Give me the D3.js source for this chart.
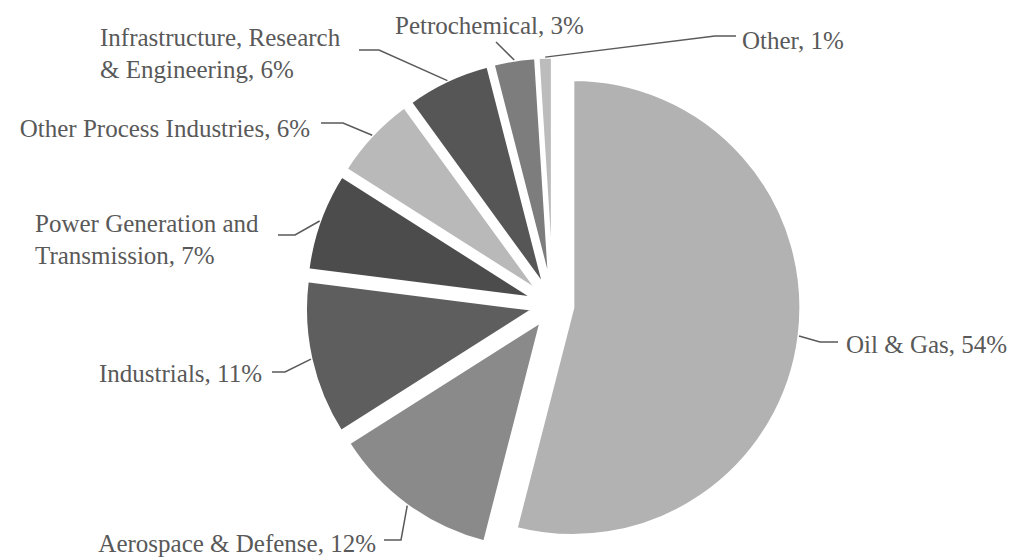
<!DOCTYPE html>
<html>
<head>
<meta charset="utf-8">
<script src="https://cdn.jsdelivr.net/npm/d3@7"></script>
<style>
  body { margin: 0; background: #fff; }
</style>
</head>
<body>
<div id="chart"></div>
<script>
// data, clockwise from 12 o'clock
const categories = ['Oil & Gas', 'Aerospace & Defense', 'Industrials',
  'Power Generation and Transmission', 'Other Process Industries',
  'Infrastructure, Research & Engineering', 'Petrochemical', 'Other'];
const shares = [54, 12, 11, 7, 6, 6, 3, 1];
const labelLines = [
  ['Oil & Gas, 54%'],
  ['Aerospace & Defense, 12%'],
  ['Industrials, 11%'],
  ['Power Generation and', 'Transmission, 7%'],
  ['Other Process Industries, 6%'],
  ['Infrastructure, Research', '& Engineering, 6%'],
  ['Petrochemical, 3%'],
  ['Other, 1%']
];
const fills = ['#b2b2b2', '#8a8a8a', '#5e5e5e', '#4c4c4c', '#b9b9b9', '#565656', '#7d7d7d', '#bcbcbc'];

// label layout: text anchor point, and leader elbow/end
const labelLayout = [
  { x: 846, y: 353, anchor: 'start', elbow: [820, 342], end: [838, 342] },
  { x: 376, y: 552, anchor: 'end',   elbow: [401, 540], end: [384, 540] },
  { x: 262, y: 382, anchor: 'end',   elbow: [285, 372], end: [272, 372] },
  { x: 35,  y: 232, anchor: 'start', elbow: [295, 235], end: [278, 235] },
  { x: 310, y: 137, anchor: 'end',   elbow: [343, 123], end: [321, 123] },
  { x: 100, y: 46,  anchor: 'start', elbow: [379, 50],  end: [359, 50] },
  { x: 395, y: 34,  anchor: 'start', elbow: null,       end: [496, 42] },
  { x: 742, y: 49,  anchor: 'start', elbow: [715, 36],  end: [736, 36] }
];

const W = 1014, H = 557;
const cx = 553, cy = 305, R = 228, explode = 20;
const lineH = 32;
const FONT = '"Liberation Serif", "DejaVu Serif", "Noto Serif", serif';

const svg = d3.select('#chart').append('svg').attr('width', W).attr('height', H);
const g = svg.append('g').attr('transform', `translate(${cx},${cy})`);

const pie = d3.pie().sort(null).value(d => d);
const arcs = pie(shares);
const arc = d3.arc().innerRadius(0).outerRadius(R);

// offset of each exploded slice
const off = d => {
  const m = (d.startAngle + d.endAngle) / 2;
  return [Math.sin(m) * explode, -Math.cos(m) * explode];
};

g.selectAll('path.slice')
  .data(arcs)
  .join('path')
  .attr('class', 'slice')
  .attr('d', arc)
  .attr('transform', d => `translate(${off(d)})`)
  .attr('fill', (d, i) => fills[i])
  .attr('stroke', '#fff')
  .attr('stroke-width', 3);

// leader lines
svg.selectAll('polyline.leader')
  .data(arcs)
  .join('polyline')
  .attr('class', 'leader')
  .attr('points', (d, i) => {
    const m = (d.startAngle + d.endAngle) / 2;
    const [ox, oy] = off(d);
    const s = [cx + ox + Math.sin(m) * R, cy + oy - Math.cos(m) * R];
    const L = labelLayout[i];
    const pts = [s];
    if (L.elbow) pts.push(L.elbow);
    pts.push(L.end);
    return pts.map(p => p.join(',')).join(' ');
  })
  .attr('fill', 'none')
  .attr('stroke', '#5a5a5a')
  .attr('stroke-width', 1.5);

// labels
const labels = svg.selectAll('text.lbl')
  .data(labelLines)
  .join('text')
  .attr('class', 'lbl')
  .attr('x', (d, i) => labelLayout[i].x)
  .attr('y', (d, i) => labelLayout[i].y)
  .attr('text-anchor', (d, i) => labelLayout[i].anchor)
  .attr('fill', '#595959')
  .attr('font-family', FONT)
  .attr('font-size', 25);

labels.selectAll('tspan')
  .data((d, i) => d.map(t => ({ t, x: labelLayout[i].x })))
  .join('tspan')
  .attr('x', d => d.x)
  .attr('dy', (d, j) => j === 0 ? 0 : lineH)
  .text(d => d.t);
</script>
</body>
</html>
